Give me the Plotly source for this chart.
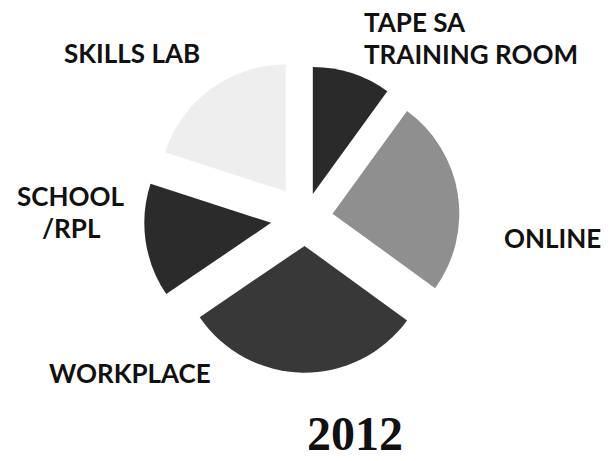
import plotly.graph_objects as go

labels = ["TAPE SA TRAINING ROOM", "ONLINE", "WORKPLACE", "SCHOOL /RPL", "SKILLS LAB"]
values = [10, 25, 30.5, 14.5, 20]
colors = ["#2a2a2a", "#8f8f8f", "#383838", "#2b2b2b", "#eeeeee"]
pulls = [0.2, 0.22, 0.22, 0.27, 0.26]
title_text = "2012"

fig = go.Figure(go.Pie(
    labels=labels, values=values, sort=False, direction="clockwise", rotation=0,
    marker=dict(colors=colors, line=dict(width=0)),
    pull=pulls, textinfo="none", hoverinfo="label+percent", showlegend=False,
    domain=dict(x=[0.2341, 0.7577], y=[1 - 379 / 461, 1 - 57 / 461]),
))

font = dict(family="Lato", size=26, color="#111111", weight="bold")
anns = [
    ("TAPE SA", 362, 22, "left"),
    ("TRAINING ROOM", 362, 53.5, "left"),
    ("SKILLS LAB", 132, 53, "center"),
    ("SCHOOL", 71, 196, "center"),
    ("/RPL", 71, 227.5, "center"),
    ("ONLINE", 552, 238, "center"),
    ("WORKPLACE", 130, 373, "center"),
]
for t, x, y, a in anns:
    fig.add_annotation(text=t, x=x / 615, y=1 - y / 461, xref="paper", yref="paper",
                       xanchor=a, yanchor="middle", showarrow=False, font=font)
fig.add_annotation(text="<b>" + title_text + "</b>", x=355 / 615, y=0,
                   xref="paper", yref="paper", xanchor="center", yanchor="bottom",
                   showarrow=False, borderpad=0,
                   font=dict(family="Liberation Serif", size=48, color="#111111"))

fig.update_layout(width=615, height=461, margin=dict(l=0, r=0, t=0, b=0),
                  paper_bgcolor="white", plot_bgcolor="white")
fig.write_html("out.html")
